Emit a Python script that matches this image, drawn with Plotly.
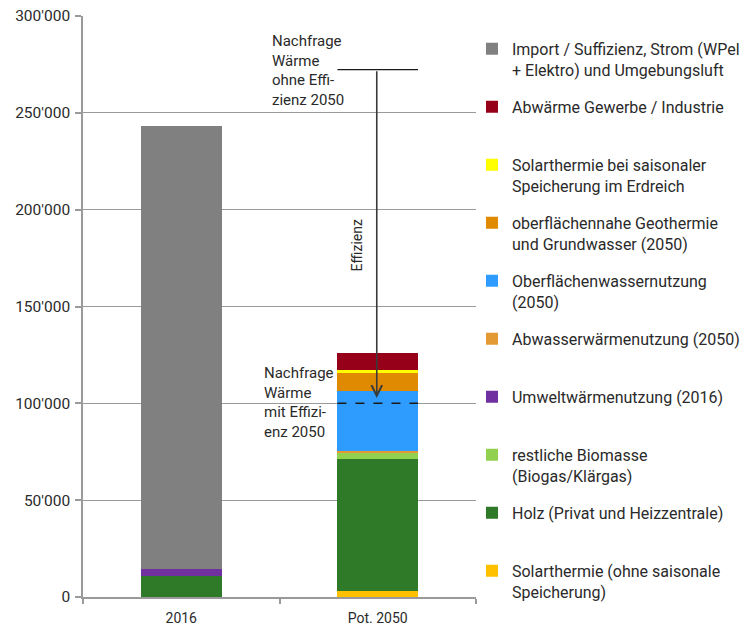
import plotly.graph_objects as go

# ---------------- data ----------------
categories = ["2016", "Pot. 2050"]

# stacking order: bottom -> top
series_names = [
    "Solarthermie (ohne saisonale<br>Speicherung)",
    "Holz (Privat und Heizzentrale)",
    "restliche Biomasse<br>(Biogas/Klärgas)",
    "Umweltwärmenutzung (2016)",
    "Abwasserwärmenutzung (2050)",
    "Oberflächenwassernutzung<br>(2050)",
    "oberflächennahe Geothermie<br>und Grundwasser (2050)",
    "Solarthermie bei saisonaler<br>Speicherung im Erdreich",
    "Abwärme Gewerbe / Industrie",
    "Import / Suffizienz, Strom (WPel<br>+ Elektro) und Umgebungsluft",
]
series_values = [
    [0, 2900],
    [10700, 68600],
    [0, 3100],
    [3800, 0],
    [0, 800],
    [0, 30900],
    [0, 9150],
    [0, 1700],
    [0, 8600],
    [228900, 0],
]
series_colors = [
    "#ffc000",
    "#2e7a28",
    "#92d050",
    "#7030a0",
    "#e39a35",
    "#2e9cff",
    "#df8a00",
    "#ffff00",
    "#960018",
    "#808080",
]

demand_without_eff = 272300
demand_with_eff = 100000
arrow_tip = 102700

y_ticks = [0, 50000, 100000, 150000, 200000, 250000, 300000]

FONT = "Roboto"
TXT = "#2a2a2a"

fig = go.Figure()
n = len(series_names)
for i, (name, vals, col) in enumerate(zip(series_names, series_values, series_colors)):
    label = name if "<br>" in name else name + "<br>\u00a0"
    fig.add_trace(go.Bar(
        x=categories, y=vals, name=label, marker_color=col,
        marker_line_width=0, width=0.41, legendgroup=name,
        legendrank=100 + (n - i),
    ))

# horizontal line: demand without efficiency
fig.add_shape(type="line", xref="x", yref="y", x0=0.795, x1=1.205,
              y0=demand_without_eff, y1=demand_without_eff,
              line=dict(color="#1a1a1a", width=1.3))
# dashed line: demand with efficiency
fig.add_shape(type="line", xref="x", yref="y", x0=0.795, x1=1.205,
              y0=demand_with_eff, y1=demand_with_eff,
              line=dict(color="#1a1a1a", width=1.5, dash="dash"))

# efficiency arrow
fig.add_annotation(x=0.995, y=arrow_tip, ax=0.995, ay=demand_without_eff,
                   xref="x", yref="y", axref="x", ayref="y",
                   showarrow=True, arrowhead=5, arrowsize=1.3, arrowwidth=1.6,
                   arrowcolor="#3a3a3a", text="")

fig.add_annotation(x=0.894, y=181500, xref="x", yref="y", text="Effizienz",
                   textangle=-90, showarrow=False,
                   font=dict(family=FONT, size=14, color=TXT))

fig.add_annotation(x=0.452, y=292950, xref="x", yref="y",
                   text="Nachfrage<br>Wärme<br>ohne Effi-<br>zienz 2050",
                   showarrow=False, xanchor="left", yanchor="top", align="left",
                   font=dict(family=FONT, size=15, color=TXT))
fig.add_annotation(x=0.41, y=121300, xref="x", yref="y",
                   text="Nachfrage<br>Wärme<br>mit Effizi-<br>enz 2050",
                   showarrow=False, xanchor="left", yanchor="top", align="left",
                   font=dict(family=FONT, size=15, color=TXT))

fig.update_layout(
    width=748, height=625,
    margin=dict(l=83, r=272, t=16, b=28, autoexpand=False),
    paper_bgcolor="white", plot_bgcolor="white",
    barmode="stack",
    separators=".'",
    font=dict(family=FONT, size=14, color=TXT),
    hovermode=False,
    legend=dict(
        xref="container", yref="container",
        x=0.631, xanchor="left", y=0.9491, yanchor="top",
        traceorder="grouped", tracegroupgap=13.4,
        valign="top", maxheight=620,
        font=dict(family=FONT, size=16, color=TXT),
        bgcolor="rgba(0,0,0,0)",
    ),
    xaxis=dict(
        type="category", range=[-0.5, 1.5], automargin=False,
        showline=True, linecolor="#9a9a9a", linewidth=1.5,
        ticks="outside", tickson="boundaries", ticklen=5, tickcolor="#9a9a9a",
        tickwidth=1.5, showgrid=False, ticklabelstandoff=7,
        tickfont=dict(family=FONT, size=14, color=TXT),
    ),
    yaxis=dict(
        range=[0, 300000], tickvals=y_ticks, tickformat=",", automargin=False,
        showline=True, linecolor="#9a9a9a", linewidth=1.5,
        ticks="outside", ticklen=6, tickcolor="#9a9a9a", tickwidth=1.5,
        showgrid=True, gridcolor="#9a9a9a", gridwidth=1.2,
        zeroline=False, ticklabelstandoff=2,
        tickfont=dict(family=FONT, size=15.5, color=TXT),
    ),
)

fig.write_html("out.html")
